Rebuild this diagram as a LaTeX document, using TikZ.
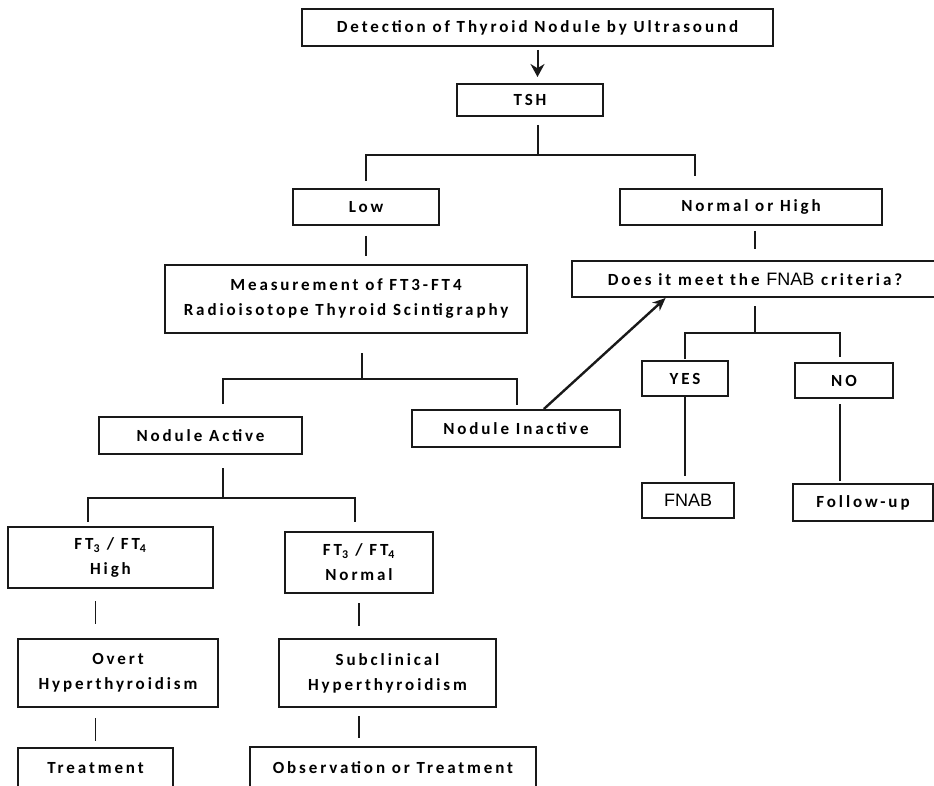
\documentclass[tikz,border=0pt]{standalone}
\usepackage{fontspec}
\newfontfamily\chartfont{Carlito}[LetterSpace=17]
\newfontfamily\fnabfont{Liberation Sans}
\usetikzlibrary{arrows.meta}

\begin{document}
\begin{tikzpicture}[x=1pt,y=-1pt,>=Stealth,font=\chartfont\bfseries\fontsize{17}{25}\selectfont,
  box/.style={rectangle,fill=white,draw=black!90,line width=2pt,inner sep=0pt,align=center},
  link/.style={draw=black!90,line width=1.6pt,shorten <=8pt,shorten >=8pt}]
\useasboundingbox (0,0) rectangle (934,786);

% boxes
\node[box,minimum width=471,minimum height=37] (detect) at (537.5,27.5) {Detection of Thyroid Nodule by Ultrasound};
\node[box,minimum width=146,minimum height=32] (tsh) at (530,100) {TSH};
\node[box,minimum width=146,minimum height=36] (low) at (366,207) {Low};
\node[box,minimum width=262,minimum height=36] (nh) at (751,207) {Normal or High};
\node[box,minimum width=362,minimum height=68] (meas) at (346,299) {Measurement of FT3-FT4\\Radioisotope Thyroid Scintigraphy};
\node[box,minimum width=366,minimum height=36] (fnabq) at (755,279) {Does it meet the {\fnabfont\mdseries\fontsize{18}{20}\selectfont FNAB} criteria?};
\node[box,minimum width=203,minimum height=37] (active) at (200.5,435.5) {Nodule Active};
\node[box,minimum width=208,minimum height=37] (inactive) at (516,428.5) {Nodule Inactive};
\node[box,minimum width=86,minimum height=35] (yes) at (685,378.5) {YES};
\node[box,minimum width=98,minimum height=35] (no) at (844,380.5) {NO};
\node[box,minimum width=92,minimum height=35,font=\fnabfont\fontsize{18}{20}\selectfont] (fnab) at (688,500.5) {FNAB};
\node[box,minimum width=140,minimum height=37] (follow) at (863,502.5) {Follow-up};
\node[box,minimum width=205,minimum height=61] (fthigh) at (110.5,557.5) {FT\textsubscript{3} / FT\textsubscript{4}\\High};
\node[box,minimum width=148,minimum height=61] (ftnorm) at (359,562.5) {FT\textsubscript{3} / FT\textsubscript{4}\\Normal};
\node[box,minimum width=200,minimum height=68] (overt) at (118,673) {Overt\\Hyperthyroidism};
\node[box,minimum width=217,minimum height=68] (subclin) at (387.5,673) {Subclinical\\Hyperthyroidism};
\node[box,minimum width=155,minimum height=40] (treat) at (95.5,768) {Treatment};
\node[box,minimum width=286,minimum height=42] (observ) at (393,768) {Observation or Treatment};

% fork points
\coordinate (tshfork) at (538,155);
\coordinate (tshright) at (695,155);
\coordinate (measfork) at (362,379);
\coordinate (measleft) at (223,379);
\coordinate (measright) at (517,379);
\coordinate (activefork) at (223,498);
\coordinate (ftleft) at (88,498);
\coordinate (ftright) at (355,498);
\coordinate (fnabqfork) at (755,333);
\coordinate (nobranch) at (840,333);

% connectors
\draw[link,line width=2pt,-{Stealth[length=13pt,width=14pt]},shorten <=3pt,shorten >=6pt] (detect.south) -- (detect.south |- tsh.north);
\draw[link,shorten >=0pt] (tsh.south -| tshfork) -- (tshfork);
\draw[link,shorten <=7pt,shorten >=12pt] (low.north) |- (tshright) -- (nh.north -| tshright);
\draw[link,shorten <=10pt] (low.south) -- (low.south |- meas.north);
\draw[link,shorten <=19pt,shorten >=0pt] (meas.south -| measfork) -- (measfork);
\draw[link,shorten <=12pt,shorten >=4pt] (active.north -| measleft) -- (measleft) -- (measright) -- (inactive.north -| measright);
\draw[link,shorten <=13pt,shorten >=0pt] (active.south -| activefork) -- (activefork);
\draw[link,shorten <=4pt,shorten >=9pt] (fthigh.north -| ftleft) -- (ftleft) -- (ftright) -- (ftnorm.north -| ftright);
\draw[link,shorten <=12pt,shorten >=14pt] (fthigh.south -| treat.north) -- (overt.north -| treat.north);
\draw[link,shorten <=10pt,shorten >=6pt] (overt.south -| treat.north) -- (treat.north);
\draw[link,shorten <=9pt,shorten >=12pt] (ftnorm.south) -- (ftnorm.south |- subclin.north);
\draw[link] (subclin.south -| ftnorm.south) -- (observ.north -| ftnorm.south);
\draw[link,shorten <=5pt,shorten >=11pt] (nh.south -| fnabq.north) -- (fnabq.north);
\draw[link,shorten >=0pt] (fnabq.south) -- (fnabqfork);
\draw[link,shorten <=1pt,shorten >=5pt] (yes.north) |- (nobranch) -- (no.north -| nobranch);
\draw[link,shorten <=0pt,shorten >=6pt] (yes.south) -- (yes.south |- fnab.north);
\draw[link,shorten <=5pt,shorten >=2pt] (no.south -| nobranch) -- (follow.north -| nobranch);
\draw[link,line width=2.4pt,-{Stealth[length=13pt,width=11pt]},shorten <=0pt,shorten >=0pt] (inactive.35) -- (fnabq.192);
\end{tikzpicture}
\end{document}
